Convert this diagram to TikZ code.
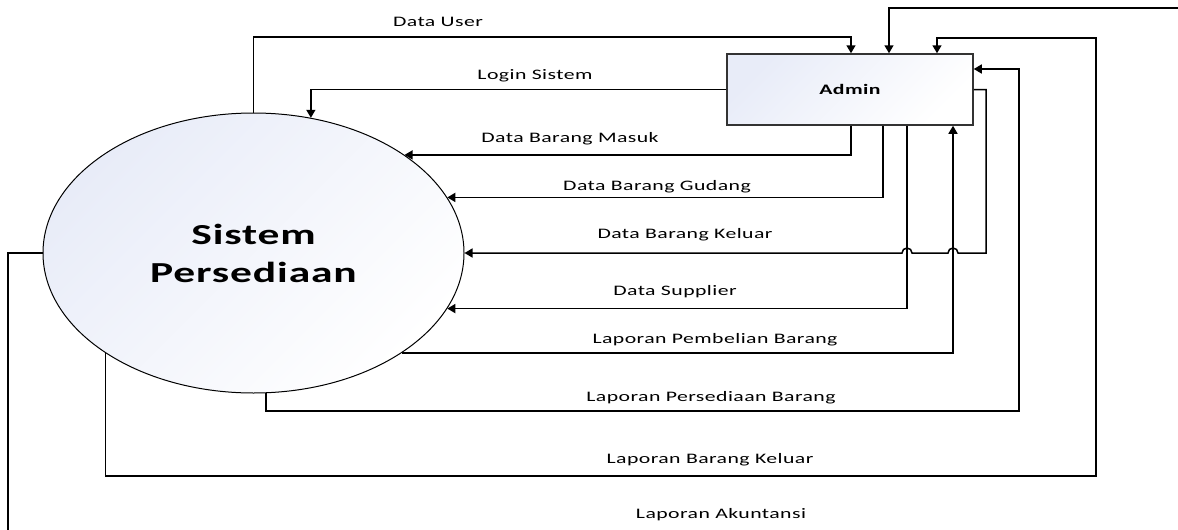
\documentclass[tikz,border=0pt]{standalone}
\usepackage{fontspec}
\setmainfont{Carlito}[LetterSpace=2]
\usetikzlibrary{arrows.meta,shapes.geometric}
\definecolor{shadeblue}{RGB}{232,236,248}
\newcommand{\lbl}[1]{\scalebox{1.5}[1]{#1}}
\begin{document}
\begin{tikzpicture}[x=1pt,y=-1pt,
  flow/.style={line width=1.5pt,-{Triangle[length=8pt,width=9pt]}},
  plain/.style={line width=1.5pt},
  lab/.style={inner sep=0pt,anchor=base,font=\fontsize{14.5}{17}\selectfont},
  proc/.style={draw,ellipse,line width=1pt,minimum width=421pt,minimum height=280pt,inner sep=0pt,
    top color=shadeblue,bottom color=white,shading angle=45,align=center,
    font=\bfseries\fontsize{29}{38}\selectfont},
  ent/.style={draw=black!80,line width=1.5pt,minimum width=246pt,minimum height=71pt,inner sep=0pt,
    top color=shadeblue,bottom color=white,shading angle=45,font=\bfseries\fontsize{14.5}{17}\selectfont}]
\useasboundingbox (0,0) rectangle (1178,530);

\node[proc] (sys) at (253.5,253) {\lbl{Sistem}\\\lbl{Persediaan}};
\node[ent] (adm) at (850,89.5) {\lbl{Admin}};

\coordinate (tr) at (1178,8);
\coordinate (bl) at (8,530);

% Data User
\draw[flow] (sys.north) |- (851,37) -- (851,0 |- adm.north);
% top incoming line
\draw[flow] (tr) -| (889,0 |- adm.north);
% Laporan Barang Keluar
\draw[flow] (sys.-146.6) |- (1096,476) |- (937,38) -- (937,0 |- adm.north);
% Laporan Persediaan Barang
\draw[flow] (sys.-85.3) |- (1019,411) |- (adm.east |- 0,69);
% Laporan Pembelian Barang
\draw[flow] (sys.-34.17) -| (953,0 |- adm.south);
% Data Barang Keluar
\draw[flow] (adm.east) -| (986,253) -- (958,253) arc[start angle=0,end angle=-180,radius=5]
  -- (912,253) arc[start angle=0,end angle=-180,radius=5] -- (sys.east);
% Data Supplier
\draw[flow] (907,0 |- adm.south) |- (sys.-16.19);
% Data Barang Gudang
\draw[flow] (883,0 |- adm.south) |- (sys.16.52);
% Data Barang Masuk
\draw[flow] (851,0 |- adm.south) |- (sys.33.62);
% Login Sistem
\draw[flow] (adm.west) -| (sys.67.28);
% Laporan Akuntansi
\draw[plain] (sys.west) -| (bl);

\node[lab] (l1) at (438,26) {\lbl{Data User}};
\node[lab] (l2) at (535,79) {\lbl{Login Sistem}};
\node[lab] (l3) at (570,142) {\lbl{Data Barang Masuk}};
\node[lab] (l4) at (657,190) {\lbl{Data Barang Gudang}};
\node[lab] (l5) at (685,238) {\lbl{Data Barang Keluar}};
\node[lab] (l6) at (675,295) {\lbl{Data Supplier}};
\node[lab] (l7) at (715,343) {\lbl{Laporan Pembelian Barang}};
\node[lab] (l8) at (711,401) {\lbl{Laporan Persediaan Barang}};
\node[lab] (l9) at (710,463) {\lbl{Laporan Barang Keluar}};
\node[lab] (l10) at (721,518) {\lbl{Laporan Akuntansi}};
\end{tikzpicture}
\end{document}
